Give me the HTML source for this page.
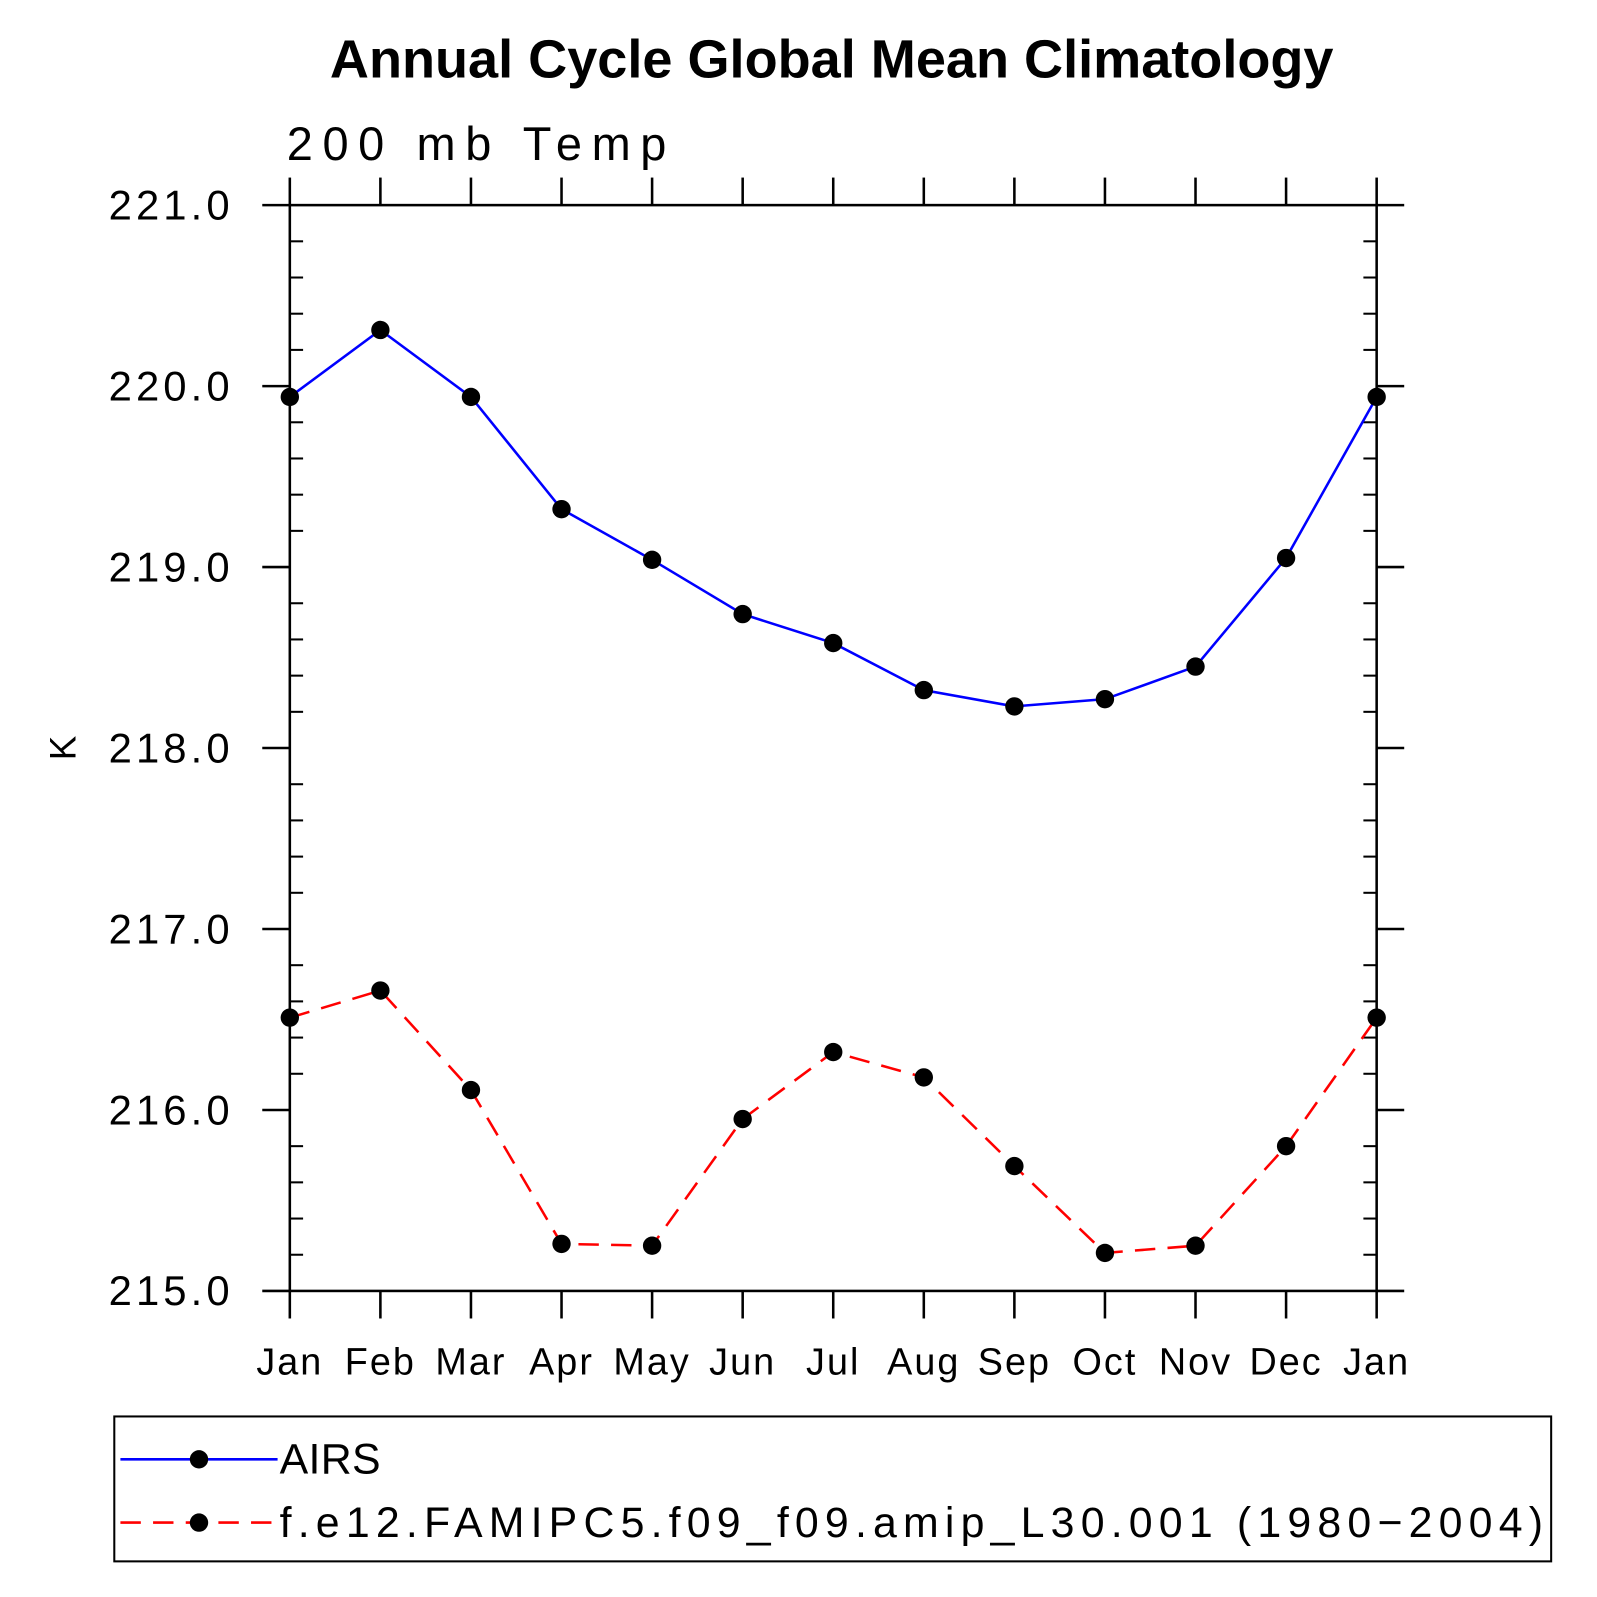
<!DOCTYPE html>
<html><head><meta charset="utf-8"><style>
html,body{margin:0;padding:0;background:#fff;}
svg{display:block;font-family:"Liberation Sans","DejaVu Sans",sans-serif;}
</style></head><body>
<svg id="chart" width="1597" height="1597" viewBox="0 0 1597 1597">
<g transform="scale(1.0205)">
<text x="815" y="76" text-anchor="middle" font-size="53" font-weight="bold">Annual Cycle Global Mean Climatology</text>
<text x="281" y="157" font-size="46" textLength="372" lengthAdjust="spacing">200 mb Temp</text>
<text transform="translate(74,733) rotate(-90)" text-anchor="middle" font-size="36">K</text>
<g id="axes"></g>
<g id="series"></g>
<rect x="112" y="1388" width="1408" height="142" fill="none" stroke="#000" stroke-width="2"/>
<g>
<line x1="118" y1="1430" x2="272" y2="1430" stroke="#00f" stroke-width="2.5"/>
<circle cx="195" cy="1430" r="9" fill="#000"/>
<text x="274" y="1444" font-size="42" textLength="99" lengthAdjust="spacing">AIRS</text></g>
<g>
<line x1="118" y1="1492" x2="272" y2="1492" stroke="#f00" stroke-width="2.5" stroke-dasharray="20,12"/>
<circle cx="195" cy="1492" r="9" fill="#000"/>
<text x="274" y="1506" font-size="42" textLength="1238" lengthAdjust="spacing">f.e12.FAMIPC5.f09_f09.amip_L30.001 (1980−2004)</text></g>
</g>
</svg>
<script>
const months=["Jan","Feb","Mar","Apr","May","Jun","Jul","Aug","Sep","Oct","Nov","Dec","Jan"];
const airs=[219.94,220.31,219.94,219.32,219.04,218.74,218.58,218.32,218.23,218.27,218.45,219.05,219.94];
const model=[216.51,216.66,216.11,215.26,215.25,215.95,216.32,216.18,215.69,215.21,215.25,215.80,216.51];
const yTicks=[215,216,217,218,219,220,221];
const yTickLabels=["215.0","216.0","217.0","218.0","219.0","220.0","221.0"];
const NS="http://www.w3.org/2000/svg";
const X0=284,X1=1349,Y0=1265,Y1=201,YMIN=215,YMAX=221;
function xs(i){return X0+(X1-X0)*i/(months.length-1);}
function ys(v){return Y0-(v-YMIN)/(YMAX-YMIN)*(Y0-Y1);}
function mk(tag,attrs,parent){const e=document.createElementNS(NS,tag);for(const k in attrs)e.setAttribute(k,attrs[k]);parent.appendChild(e);return e;}
const ax=document.getElementById('axes');
const fr=mk('rect',{x:X0,y:Y1,width:X1-X0,height:Y0-Y1,fill:'none',stroke:'#000','stroke-width':2.5},ax);


months.forEach((m,i)=>{
  const x=xs(i);
  const t1=mk('line',{x1:x,y1:Y0,x2:x,y2:Y0+27,stroke:'#000','stroke-width':2.5},ax);
  
  
  const t2=mk('line',{x1:x,y1:Y1,x2:x,y2:Y1-27,stroke:'#000','stroke-width':2.5},ax);
  
  
  const l=mk('text',{x:x,y:1347,'text-anchor':'middle','font-size':37,'letter-spacing':2},ax);
  l.textContent=m;
  
  
});
for(let v=YMIN;v<=YMAX+1e-6;v+=0.2){
  const y=ys(v);const major=Math.abs(v-Math.round(v))<1e-6;
  if(major){
    mk('line',{x1:X0-27,y1:y,x2:X0,y2:y,stroke:'#000','stroke-width':2.5},ax);
    mk('line',{x1:X1,y1:y,x2:X1+27,y2:y,stroke:'#000','stroke-width':2.5},ax);
  } else {
    mk('line',{x1:X0,y1:y,x2:X0+13,y2:y,stroke:'#000','stroke-width':2},ax);
    mk('line',{x1:X1-13,y1:y,x2:X1,y2:y,stroke:'#000','stroke-width':2},ax);
  }
}
yTicks.forEach((v,i)=>{
  const l=mk('text',{x:229,y:ys(v)+14,'text-anchor':'end','font-size':41,'letter-spacing':4},ax);
  l.textContent=yTickLabels[i];
  
  
});
const sg=document.getElementById('series');
function draw(vals,color,dash,name){
  const pts=vals.map((v,i)=>xs(i)+','+ys(v)).join(' ');
  const pl=mk('polyline',{points:pts,fill:'none',stroke:color,'stroke-width':2.5,'stroke-dasharray':dash},sg);
  
  
  vals.forEach((v,i)=>{
    const c=mk('circle',{cx:xs(i),cy:ys(v),r:9,fill:'#000'},sg);
    
    
  });
}
draw(airs,'#00f','none','airs');
draw(model,'#f00','20,12','model');
</script>
</body></html>
